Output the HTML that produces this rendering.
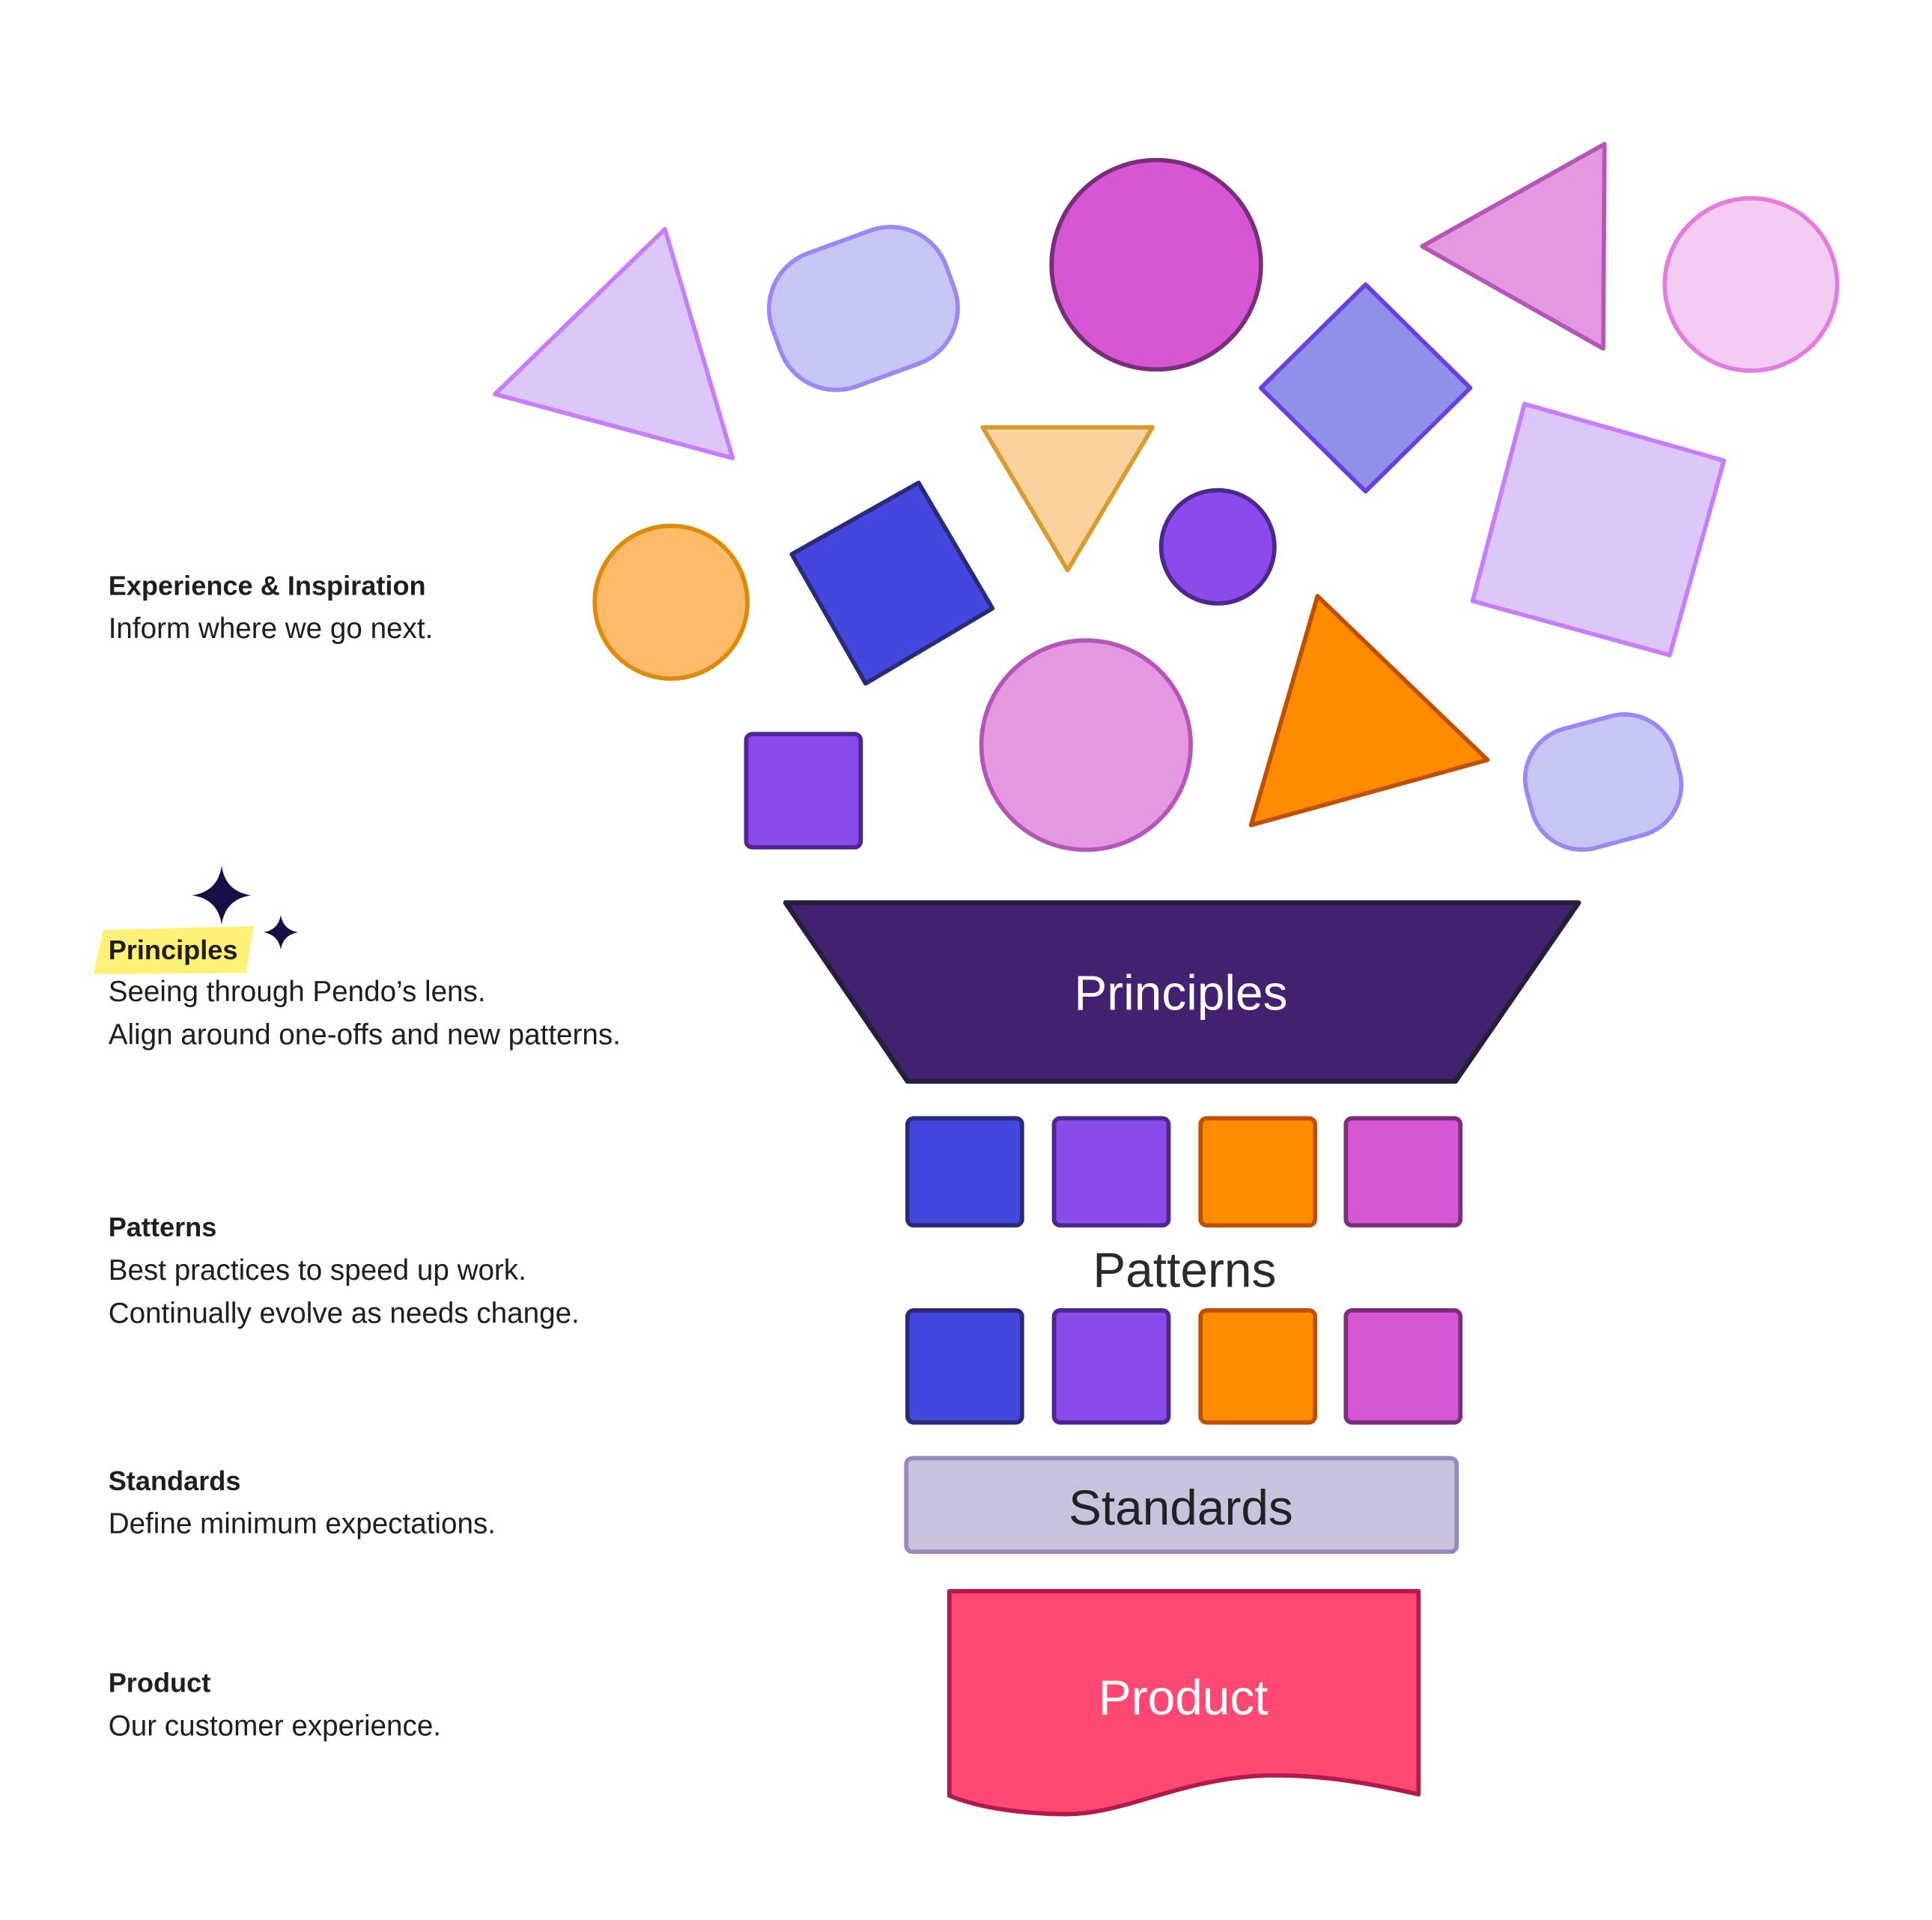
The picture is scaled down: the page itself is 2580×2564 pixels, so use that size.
<!DOCTYPE html>
<html><head><meta charset="utf-8"><style>
html,body{margin:0;padding:0;background:#fff;}
svg{display:block;font-family:"Liberation Sans",sans-serif;}
</style></head><body>
<svg width="2580" height="2564" viewBox="0 0 1569 1559" preserveAspectRatio="none">
<g stroke-linejoin="round" stroke-width="3.5">
<polygon points="402,320 540,186 595,372" fill="#dcc8f8" stroke="#c77dff"/>
<rect x="626" y="193" width="150" height="115" rx="48" transform="rotate(-20 701 250)" fill="#c7c7f5" stroke="#9b87f5"/>
<circle cx="939" cy="215" r="85" fill="#d656d4" stroke="#7a2d7a"/>
<polygon points="1155,200 1303,117 1302,283" fill="#e598e2" stroke="#b654b8"/>
<circle cx="1422" cy="231" r="70" fill="#f2cdf1" stroke="#e57ae0"/>
<polygon points="1109,231 1194,315 1109,399 1024,315" fill="#8f90ea" stroke="#6a3ee0"/>
<polygon points="1238,328 1400,374 1356,532 1196,488" fill="#dcc8f8" stroke="#c77dff"/>
<polygon points="798,347 936,347 867,463" fill="#fbd29e" stroke="#d99b2e"/>
<circle cx="989" cy="444" r="46" fill="#8b4bec" stroke="#4b2891"/>
<circle cx="545" cy="489" r="62" fill="#fdba68" stroke="#e08a0a"/>
<polygon points="643,450 746,392 806,494 703,555" fill="#4447de" stroke="#2a2a7a"/>
<rect x="606" y="596" width="93" height="92" rx="5" fill="#8b4bec" stroke="#4b2891"/>
<circle cx="882" cy="605" r="85" fill="#e598e2" stroke="#b654b8"/>
<polygon points="1070,484 1208,617 1016,670" fill="#ff8c00" stroke="#c05000"/>
<rect x="1240" y="585" width="124" height="100" rx="42" transform="rotate(-15 1302 635)" fill="#c7c7f5" stroke="#9b87f5"/>

<polygon points="638,733 1282,733 1182,878 737,878" fill="#432171" stroke="#24203a" stroke-width="4"/>
<g>
<rect x="737" y="908" width="93" height="87" rx="5" fill="#4447de" stroke="#2a2a7a"/>
<rect x="856" y="908" width="93" height="87" rx="5" fill="#8b4bec" stroke="#4b2891"/>
<rect x="975" y="908" width="93" height="87" rx="5" fill="#ff8c00" stroke="#c05000"/>
<rect x="1093" y="908" width="93" height="87" rx="5" fill="#d656d4" stroke="#7a2d7a"/>
</g>
<g>
<rect x="737" y="1064" width="93" height="91" rx="5" fill="#4447de" stroke="#2a2a7a"/>
<rect x="856" y="1064" width="93" height="91" rx="5" fill="#8b4bec" stroke="#4b2891"/>
<rect x="975" y="1064" width="93" height="91" rx="5" fill="#ff8c00" stroke="#c05000"/>
<rect x="1093" y="1064" width="93" height="91" rx="5" fill="#d656d4" stroke="#7a2d7a"/>
</g>
<rect x="736" y="1184" width="447" height="76" rx="5" fill="#c7c3dc" stroke="#9b87c0"/>
<path d="M771,1292 H1152 V1457 C1100,1445 1060,1440 1020,1442 C950,1447 910,1475 860,1473 C820,1472 790,1466 771,1458 Z" fill="#ff4872" stroke="#b3194a"/>
</g>
<g text-anchor="middle" font-size="40">
<text x="959" y="820" fill="#fff">Principles</text>
<text x="962" y="1045" fill="#2a2a2a">Patterns</text>
<text x="959" y="1238" fill="#222">Standards</text>
<text x="961" y="1392" fill="#fff">Product</text>
</g>
<polygon points="84,755 206,752 200,790 76,791" fill="#fff176"/>
<path d="M180,703 Q183,724 204,727 Q183,730 180,751 Q177,730 156,727 Q177,724 180,703 Z" fill="#1a0d45"/>
<path d="M228,743 Q230,755 242,757 Q230,759 228,771 Q226,759 214,757 Q226,755 228,743 Z" fill="#1a0d45"/>
<g font-size="23.5" fill="#1e1e1e">
<text x="88" y="483" font-weight="bold" font-size="22">Experience &amp; Inspiration</text>
<text x="88" y="518">Inform where we go next.</text>
<text x="88" y="779" font-weight="bold" font-size="22">Principles</text>
<text x="88" y="813">Seeing through Pendo’s lens.</text>
<text x="88" y="848">Align around one-offs and new patterns.</text>
<text x="88" y="1004" font-weight="bold" font-size="22">Patterns</text>
<text x="88" y="1039">Best practices to speed up work.</text>
<text x="88" y="1074">Continually evolve as needs change.</text>
<text x="88" y="1210" font-weight="bold" font-size="22">Standards</text>
<text x="88" y="1245">Define minimum expectations.</text>
<text x="88" y="1374" font-weight="bold" font-size="22">Product</text>
<text x="88" y="1409">Our customer experience.</text>
</g>
</svg>
</body></html>
